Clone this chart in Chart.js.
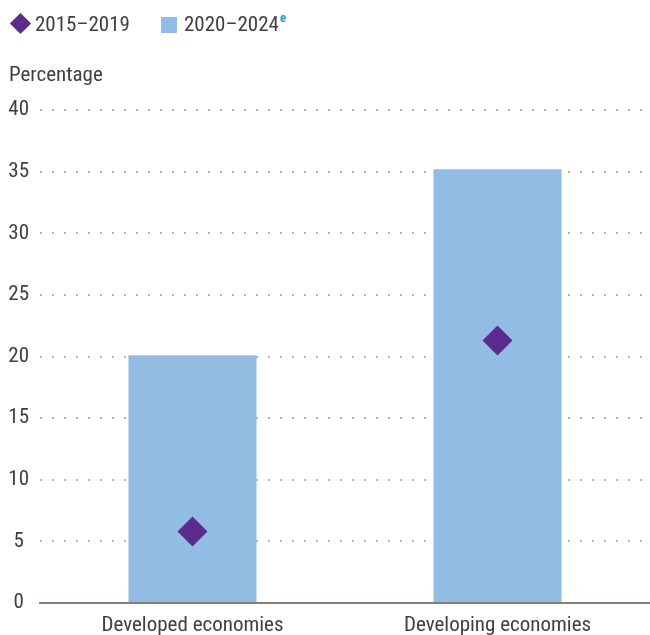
<!DOCTYPE html>
<html>
<head>
<meta charset="utf-8">
<script src="https://cdn.jsdelivr.net/npm/chart.js@4"></script>
<style>
  html, body { margin: 0; background: #fff; overflow: hidden; }
  #wrap { position: relative; width: 650px; height: 635px; overflow: hidden; }
  #chart { display: block; }
  .txt { position: absolute; font-family: 'Liberation Sans Narrow', 'Roboto Condensed', Roboto, sans-serif; font-size: 21px; color: #404040; white-space: nowrap; line-height: 1; }
  .diamond { position: absolute; left: 13px; top: 16px; width: 15px; height: 15px; background: #5b2b8e; transform: rotate(45deg); }
  .square { position: absolute; left: 161px; top: 17px; width: 16px; height: 16px; background: #93bce4; }
  sup { color: #1a9ad6; font-weight: bold; font-size: 13px; vertical-align: 0; position: relative; top: -9px; margin-left: 1px; }
</style>
</head>
<body>
<div id="wrap">
  <canvas id="chart"></canvas>
  <div class="diamond"></div>
  <div class="txt" style="left:35px; top:14px;">2015–2019</div>
  <div class="square"></div>
  <div class="txt" style="left:184px; top:14px;">2020–2024<sup>e</sup></div>
  <div class="txt" style="left:9px; top:64px;">Percentage</div>
</div>
<script>
var categories = ['Developed economies', 'Developing economies'];
var share2015_2019 = [5.8, 21.3];
var share2020_2024 = [20.1, 35.2];
var yTicks = [0, 5, 10, 15, 20, 25, 30, 35, 40];

var fontFamily = "'Liberation Sans Narrow', 'Roboto Condensed', Roboto, sans-serif";

var ctx = document.getElementById('chart').getContext('2d');
var myChart = new Chart(ctx, {
    data: {
        labels: categories,
        datasets: [{
            type: 'line',
            label: '2015–2019',
            data: share2015_2019,
            showLine: false,
            pointStyle: 'rectRot',
            pointRadius: 15,
            pointHoverRadius: 15,
            pointBackgroundColor: '#5b2b8e',
            pointBorderWidth: 0,
            order: 0
        }, {
            type: 'bar',
            label: '2020–2024',
            data: share2020_2024,
            backgroundColor: '#93bce4',
            categoryPercentage: 1,
            barPercentage: 0.42,
            order: 1
        }]
    },
    options: {
        responsive: true,
        maintainAspectRatio: false,
        animation: false,
        layout: {
            autoPadding: false,
            padding: { top: 110, right: 0, bottom: -13, left: 0 }
        },
        plugins: {
            legend: { display: false },
            tooltip: { enabled: false }
        },
        scales: {
            x: {
                grid: { display: false, drawTicks: false },
                border: { display: true, color: '#8a7d72', width: 2 },
                ticks: {
                    color: '#404040',
                    padding: 12,
                    maxRotation: 0,
                    font: { family: fontFamily, size: 21, lineHeight: 1 }
                }
            },
            y: {
                min: 0,
                max: 40,
                afterBuildTicks: function(scale) {
                    scale.ticks = yTicks.map(function(v) { return { value: v }; });
                },
                afterFit: function(scale) { scale.width = 40; },
                grid: {
                    drawTicks: false,
                    lineWidth: 2,
                    color: function(c) { return c.tick && c.tick.value === 0 ? 'rgba(0,0,0,0)' : '#bdb2a8'; }
                },
                border: { display: false, dash: [2, 10] },
                ticks: {
                    color: '#404040',
                    padding: 11,
                    crossAlign: 'center',
                    font: { family: fontFamily, size: 21 }
                }
            }
        }
    }
});
</script>
</body>
</html>
